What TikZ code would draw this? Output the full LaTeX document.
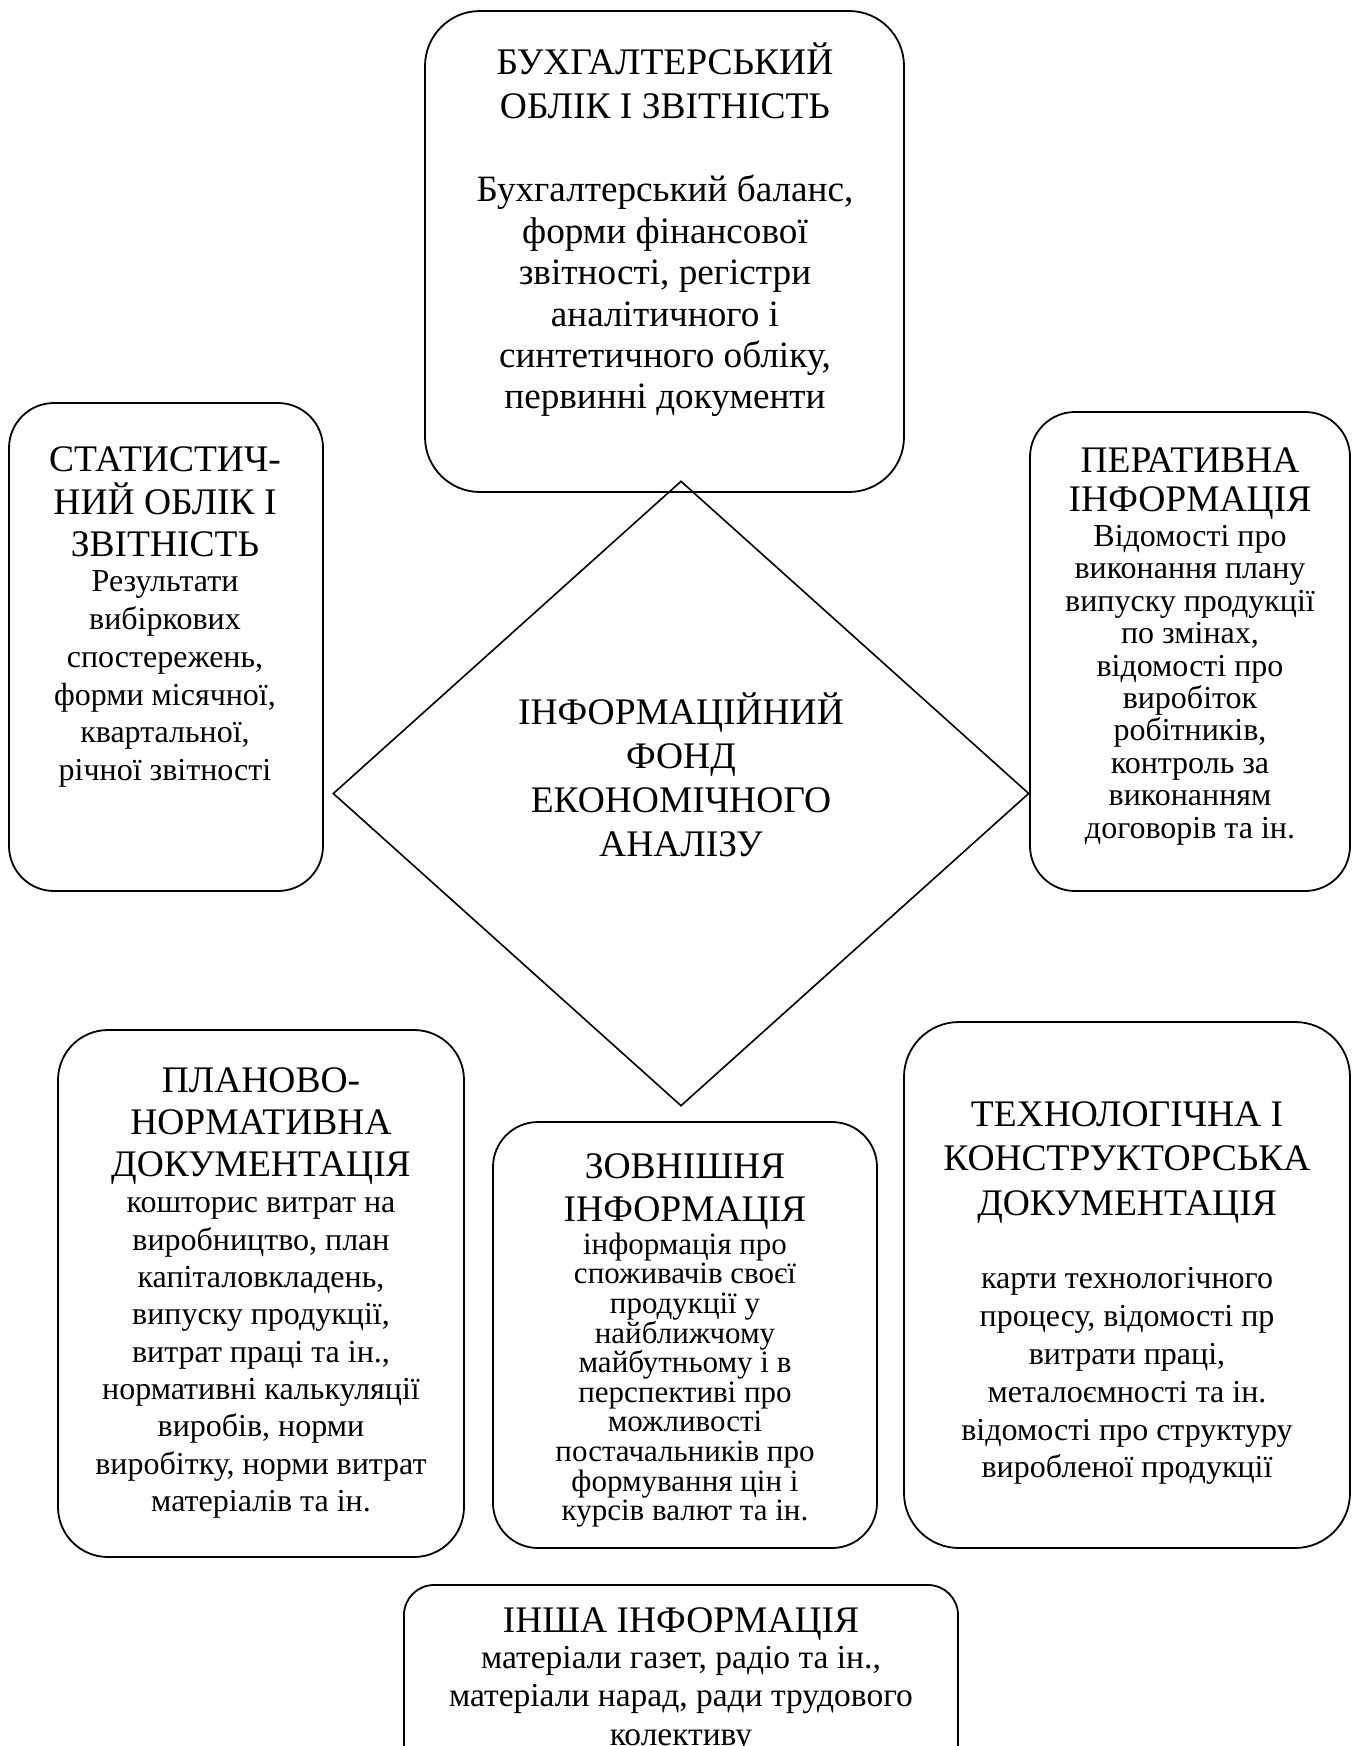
\documentclass[tikz,border=0pt]{standalone}
\usepackage{fontspec}
\setmainfont{Liberation Serif}
\usetikzlibrary{shapes.geometric}
\newcommand\myfs[2]{\fontsize{#1}{#2}\selectfont}
\begin{document}
\begin{tikzpicture}[x=1pt,y=-1pt,
  box/.style={draw, line width=1.8pt, rectangle, rounded corners=#1, inner sep=0pt},
  box/.default=50pt,
  txt/.style={align=center, inner sep=0pt, text=black},
  ttl/.style={txt, font=\myfs{37.5}{43}},
]
\useasboundingbox (0,0) rectangle (1354,1746);
\clip (0,0) rectangle (1354,1746);
\fill[white] (0,0) rectangle (1354,1746);

% boxes
\node[box=55pt, minimum width=479pt, minimum height=481pt] (top) at (664.5,251.5) {};
\node[box=45pt, minimum width=314pt, minimum height=488pt] (left) at (166,647) {};
\node[box=45pt, minimum width=320pt, minimum height=479pt] (right) at (1190,651.5) {};
\node[box=50pt, minimum width=406pt, minimum height=527pt] (plan) at (261,1293.5) {};
\node[box=45pt, minimum width=384pt, minimum height=426pt] (zovn) at (685,1335) {};
\node[box=55pt, minimum width=446pt, minimum height=526pt] (tech) at (1127,1285) {};
\node[box=30pt, minimum width=554pt, minimum height=195pt] (insha) at (681,1682.5) {};

% central diamond
\node[draw, line width=1.6pt, diamond, minimum width=696pt, minimum height=625pt, inner sep=0pt] (dia) at (681,793.5) {};

% texts
\node[ttl, font=\myfs{37.5}{44.5}] (topT) at (665,81) {БУХГАЛТЕРСЬКИЙ\\ОБЛІК І ЗВІТНІСТЬ};
\node[txt, font=\myfs{37.2}{41.4}] (topB) at (665,296) {Бухгалтерський баланс,\\форми фінансової\\звітності, регістри\\аналітичного і\\синтетичного обліку,\\первинні документи};

\node[ttl, font=\myfs{37.5}{42.3}] (leftT) at (165,502) {СТАТИСТИЧ-\\НИЙ ОБЛІК І\\ЗВІТНІСТЬ};
\node[txt, font=\myfs{32}{37.9}] (leftB) at (165,679) {Результати\\вибіркових\\спостережень,\\форми місячної,\\квартальної,\\річної звітності};

\node[ttl, font=\myfs{37.5}{39}] (rightT) at (1190,483.5) {ПЕРАТИВНА\\ІНФОРМАЦІЯ};
\node[txt, font=\myfs{32}{32.4}] (rightB) at (1190,685) {Відомості про\\виконання плану\\випуску продукції\\по змінах,\\відомості про\\виробіток\\робітників,\\контроль за\\виконанням\\договорів та ін.};

\node[ttl, font=\myfs{37.5}{44}] (diaT) at (681,775) {ІНФОРМАЦІЙНИЙ\\ФОНД\\ЕКОНОМІЧНОГО\\АНАЛІЗУ};

\node[ttl, font=\myfs{37.5}{42}] (planT) at (261,1126.5) {ПЛАНОВО-\\НОРМАТИВНА\\ДОКУМЕНТАЦІЯ};
\node[txt, font=\myfs{32}{37.3}] (planB) at (261,1358) {кошторис витрат на\\виробництво, план\\капіталовкладень,\\випуску продукції,\\витрат праці та ін.,\\нормативні калькуляції\\виробів, норми\\виробітку, норми витрат\\матеріалів та ін.};

\node[ttl, font=\myfs{37.5}{42.3}] (zovnT) at (685,1191.5) {ЗОВНІШНЯ\\ІНФОРМАЦІЯ};
\node[txt, font=\myfs{31}{29.6}] (zovnB) at (685,1380) {інформація про\\споживачів своєї\\продукції у\\найближчому\\майбутньому і в\\перспективі про\\можливості\\постачальників про\\формування цін і\\курсів валют та ін.};

\node[ttl, font=\myfs{37.5}{44.5}] (techT) at (1127,1162.5) {ТЕХНОЛОГІЧНА І\\КОНСТРУКТОРСЬКА\\ДОКУМЕНТАЦІЯ};
\node[txt, font=\myfs{32}{37.9}] (techB) at (1127,1376) {карти технологічного\\процесу, відомості пр\\витрати праці,\\металоємності та ін.\\відомості про структуру\\виробленої продукції};

\node[ttl, font=\myfs{37.5}{40}] (inshaT) at (681,1624.5) {ІНША ІНФОРМАЦІЯ};
\node[txt, font=\myfs{33.5}{38.5}, anchor=north] (inshaB) at (681,1646) {матеріали газет, радіо та ін.,\\матеріали нарад, ради трудового\\колективу};
\end{tikzpicture}
\end{document}
